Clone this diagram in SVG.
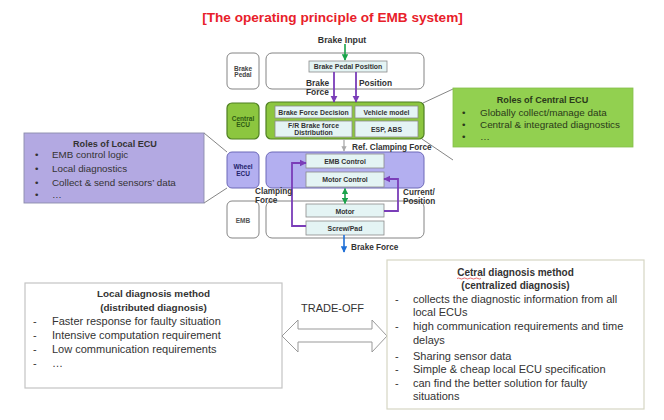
<svg xmlns="http://www.w3.org/2000/svg" width="664" height="420" viewBox="0 0 664 420">
<defs>
<style>
.lbl{font-family:"Liberation Sans",Arial,sans-serif;font-weight:bold;}
.cal{font-family:"Liberation Sans",Arial,sans-serif;fill:#333;}
.cell{fill:#e4f4f4;stroke:#8a8a8a;stroke-width:0.8;}
.wbox{fill:#fff;stroke:#777;stroke-width:0.9;}
.gbox{fill:#8cc63f;stroke:#4e7f22;stroke-width:1.2;}
.pbox{fill:#b3aff0;stroke:#6c68b8;stroke-width:1;}
.pline{fill:none;stroke:#7a3db8;stroke-width:1.8;}
.cline{fill:none;stroke:#777;stroke-width:0.9;}
</style>
<marker id="ap" viewBox="0 0 10 10" refX="9" refY="5" markerWidth="4" markerHeight="4" orient="auto-start-reverse"><path d="M0,0 L10,5 L0,10 z" fill="#7a3db8"/></marker>
<marker id="ag" viewBox="0 0 10 10" refX="9" refY="5" markerWidth="4" markerHeight="4" orient="auto-start-reverse"><path d="M0,0 L10,5 L0,10 z" fill="#1aa34a"/></marker>
<marker id="ab" viewBox="0 0 10 10" refX="9" refY="5" markerWidth="4" markerHeight="4" orient="auto-start-reverse"><path d="M0,0 L10,5 L0,10 z" fill="#1f6fd6"/></marker>
<marker id="agr" viewBox="0 0 10 10" refX="9" refY="5" markerWidth="4" markerHeight="4" orient="auto-start-reverse"><path d="M0,0 L10,5 L0,10 z" fill="#aaa"/></marker>
</defs>
<rect width="664" height="420" fill="#fff"/>
<text x="332.5" y="22" text-anchor="middle" class="lbl" font-size="13.6" fill="#e8202a">[The operating principle of EMB system]</text>

<g id="brake-pedal">
<rect x="227" y="53" width="32" height="36" rx="5" class="wbox"/>
<text x="243" y="70.5" text-anchor="middle" class="lbl" font-size="6.5" fill="#444">Brake</text>
<text x="243" y="77" text-anchor="middle" class="lbl" font-size="6.5" fill="#444">Pedal</text>
<rect x="266" y="53" width="158" height="36" rx="6" class="wbox"/>
<rect x="309" y="61" width="78" height="11" class="cell"/>
<text x="348" y="69" text-anchor="middle" class="lbl" font-size="6.9" fill="#333">Brake Pedal Position</text>
</g>

<g id="central-ecu">
<rect x="227" y="103" width="32" height="36" rx="5" class="gbox"/>
<text x="243" y="120.5" text-anchor="middle" class="lbl" font-size="6.5" fill="#2d5a12">Central</text>
<text x="243" y="127" text-anchor="middle" class="lbl" font-size="6.5" fill="#2d5a12">ECU</text>
<rect x="266" y="102" width="158" height="37" rx="5" class="gbox"/>
<rect x="275" y="106" width="77" height="12" class="cell"/>
<rect x="355" y="106" width="63" height="12" class="cell"/>
<rect x="275" y="121" width="77" height="16" class="cell"/>
<rect x="355" y="121" width="63" height="16" class="cell"/>
<text x="313.5" y="114.5" text-anchor="middle" class="lbl" font-size="6.9" fill="#333">Brake Force Decision</text>
<text x="386.5" y="114.5" text-anchor="middle" class="lbl" font-size="6.9" fill="#333">Vehicle model</text>
<text x="313.5" y="128" text-anchor="middle" class="lbl" font-size="6.9" fill="#333">F/R Brake force</text>
<text x="313.5" y="135" text-anchor="middle" class="lbl" font-size="6.9" fill="#333">Distribution</text>
<text x="386.5" y="131.5" text-anchor="middle" class="lbl" font-size="6.9" fill="#333">ESP, ABS</text>
</g>

<g id="wheel-ecu">
<rect x="227" y="152" width="32" height="36" rx="5" class="pbox"/>
<text x="243" y="168.5" text-anchor="middle" class="lbl" font-size="6.5" fill="#22226a">Wheel</text>
<text x="243" y="175.5" text-anchor="middle" class="lbl" font-size="6.5" fill="#22226a">ECU</text>
<rect x="266" y="152" width="158" height="36" rx="6" class="pbox"/>
<rect x="306" y="154" width="78" height="14" class="cell"/>
<rect x="306" y="172" width="78" height="15" class="cell"/>
<text x="345" y="164" text-anchor="middle" class="lbl" font-size="6.9" fill="#333">EMB Control</text>
<text x="345" y="182" text-anchor="middle" class="lbl" font-size="6.9" fill="#333">Motor Control</text>
</g>

<g id="emb">
<rect x="227" y="201" width="32" height="37" rx="5" class="wbox"/>
<text x="243" y="222.5" text-anchor="middle" class="lbl" font-size="6.5" fill="#555">EMB</text>
<rect x="266" y="201" width="158" height="37" rx="6" class="wbox"/>
<rect x="306" y="204" width="78" height="13" class="cell"/>
<rect x="306" y="221" width="78" height="14" class="cell"/>
<text x="345" y="213.5" text-anchor="middle" class="lbl" font-size="6.9" fill="#333">Motor</text>
<text x="345" y="230.5" text-anchor="middle" class="lbl" font-size="6.9" fill="#333">Screw/Pad</text>
</g>

<g id="connectors">
<line x1="345" y1="44" x2="345" y2="60" stroke="#1aa34a" stroke-width="1.6" marker-end="url(#ag)"/>
<line x1="334" y1="72" x2="334" y2="102" class="pline" marker-end="url(#ap)"/>
<line x1="356" y1="72" x2="356" y2="102" class="pline" marker-end="url(#ap)"/>
<line x1="344" y1="139" x2="344" y2="151" stroke="#aaa" stroke-width="1.3" marker-end="url(#agr)"/>
<line x1="345" y1="188.5" x2="345" y2="203.5" stroke="#1aa34a" stroke-width="1.6" marker-start="url(#ag)" marker-end="url(#ag)"/>
<polyline points="306,226 292,226 292,163 306,163" class="pline" marker-end="url(#ap)"/>
<polyline points="384,211 398,211 398,179 384,179" class="pline" marker-end="url(#ap)"/>
<line x1="344" y1="235" x2="344" y2="252" stroke="#1f6fd6" stroke-width="1.6" marker-end="url(#ab)"/>
<line x1="204" y1="133" x2="227" y2="152" class="cline"/>
<line x1="204" y1="203" x2="227" y2="188" class="cline"/>
<line x1="423" y1="103" x2="453" y2="89" class="cline"/>
<line x1="422" y1="139" x2="453" y2="160" class="cline"/>
</g>

<g id="flow-labels">
<text x="342" y="43" text-anchor="middle" class="lbl" font-size="8.8" fill="#333">Brake Input</text>
<text x="306" y="86" class="lbl" font-size="8.4" fill="#333">Brake</text>
<text x="306" y="95" class="lbl" font-size="8.4" fill="#333">Force</text>
<text x="359" y="86" class="lbl" font-size="8.4" fill="#333">Position</text>
<text x="352" y="150" class="lbl" font-size="8.2" fill="#333">Ref. Clamping Force</text>
<text x="255" y="194" class="lbl" font-size="8.2" fill="#333">Clamping</text>
<text x="255" y="202.5" class="lbl" font-size="8.2" fill="#333">Force</text>
<text x="403" y="195" class="lbl" font-size="8.2" fill="#333">Current/</text>
<text x="403" y="204" class="lbl" font-size="8.2" fill="#333">Position</text>
<text x="351" y="250" class="lbl" font-size="8.2" fill="#333">Brake Force</text>
</g>

<g id="roles-local-ecu">
<rect x="24" y="133" width="180" height="70" fill="#b3a9e2" stroke="#8c8cab" stroke-width="0.9"/>
<text x="115" y="147" text-anchor="middle" class="cal" font-weight="bold" font-size="9.1">Roles of Local ECU</text>
<g class="cal" font-size="9.8">
<text x="35" y="157.5">•</text><text x="52" y="157.5">EMB control logic</text>
<text x="35" y="171.5">•</text><text x="52" y="171.5">Local diagnostics</text>
<text x="35" y="185.5">•</text><text x="52" y="185.5">Collect &amp; send sensors’ data</text>
<text x="35" y="197.5">•</text><text x="52" y="197.5">…</text>
</g>
</g>

<g id="roles-central-ecu">
<rect x="453" y="88" width="180" height="59" fill="#92d050" stroke="#86bf4a" stroke-width="0.8"/>
<text x="542.5" y="103" text-anchor="middle" class="cal" font-weight="bold" font-size="9.1" style="fill:#2a3a1a">Roles of Central ECU</text>
<g class="cal" font-size="9.9" style="fill:#2a3a1a">
<text x="462" y="115.5">•</text><text x="480" y="115.5">Globally collect/manage data</text>
<text x="462" y="127.5">•</text><text x="480" y="127.5">Central &amp; integrated diagnostics</text>
<text x="462" y="140">•</text><text x="480" y="140">…</text>
</g>
</g>

<g id="local-diagnosis">
<rect x="25" y="283" width="257" height="105" fill="#fff" stroke="#c4c4c4" stroke-width="1.2"/>
<text x="153.5" y="297" text-anchor="middle" class="cal" font-weight="bold" font-size="9.9">Local diagnosis method</text>
<text x="153.5" y="311" text-anchor="middle" class="cal" font-weight="bold" font-size="9.9">(distributed diagnosis)</text>
<g class="cal" font-size="11">
<text x="33" y="325">-</text><text x="52" y="325">Faster response for faulty situation</text>
<text x="33" y="339">-</text><text x="52" y="339">Intensive computation requirement</text>
<text x="33" y="353">-</text><text x="52" y="353">Low communication requirements</text>
<text x="33" y="367">-</text><text x="52" y="367">…</text>
</g>
</g>

<g id="trade-off">
<text x="332.5" y="312" text-anchor="middle" class="cal" font-size="11">TRADE-OFF</text>
<polygon points="282,336 298,320 298,329 372,329 372,320 387,336 372,352 372,342 298,342 298,352" fill="#fff" stroke="#999" stroke-width="1"/>
</g>

<g id="central-diagnosis">
<rect x="387" y="260" width="257" height="149" fill="#fff" stroke="#d6d6c4" stroke-width="1.2"/>
<text x="515.5" y="276" text-anchor="middle" class="cal" font-weight="bold" font-size="10">Cetral diagnosis method</text>
<path d="M457,278.5 q1.5,-1 3,0 t3,0 t3,0 t3,0 t3,0 t3,0 t3,0 t3,0" fill="none" stroke="#e03030" stroke-width="0.7"/>
<text x="515.5" y="289" text-anchor="middle" class="cal" font-weight="bold" font-size="10">(centralized diagnosis)</text>
<g class="cal" font-size="11">
<text x="395" y="302.5">-</text><text x="413" y="302.5">collects the diagnostic information from all</text>
<text x="413" y="316">local ECUs</text>
<text x="395" y="330">-</text><text x="413" y="330">high communication requirements and time</text>
<text x="413" y="343.5">delays</text>
<text x="395" y="359.5">-</text><text x="413" y="359.5">Sharing sensor data</text>
<text x="395" y="373">-</text><text x="413" y="373">Simple &amp; cheap local ECU specification</text>
<text x="395" y="386.5">-</text><text x="413" y="386.5">can find the better solution for faulty</text>
<text x="413" y="400">situations</text>
</g>
</g>
</svg>
